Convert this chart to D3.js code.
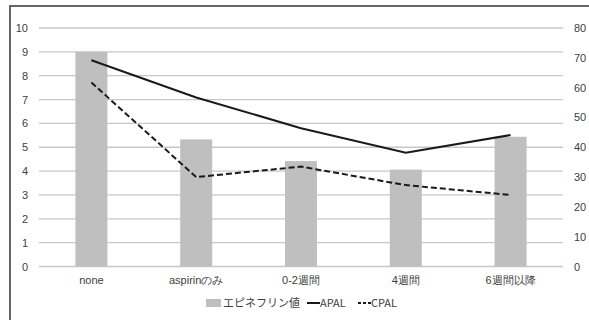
<!DOCTYPE html>
<html>
<head>
<meta charset="utf-8">
<script src="https://cdn.jsdelivr.net/npm/d3@7"></script>
<style>
  html, body { margin: 0; padding: 0; background: #fff; }
  svg { display: block; font-family: "Noto Sans CJK JP", "Noto Sans", sans-serif; }
</style>
</head>
<body>
<svg id="chart" width="589" height="320"></svg>
<script>
// Categories and series
const categories = ["none", "aspirinのみ", "0-2週間", "4週間", "6週間以降"];
const epinephrine = [9.0, 5.33, 4.42, 4.06, 5.44];   // bars, left axis
const apal = [69.2, 56.7, 46.4, 38.2, 44.1];          // solid line, right axis
const cpal = [61.7, 30.0, 33.5, 27.3, 24.0];          // dashed line, right axis
const leftTicks = [0, 1, 2, 3, 4, 5, 6, 7, 8, 9, 10];
const rightTicks = [0, 10, 20, 30, 40, 50, 60, 70, 80];
const legendLabels = ["エピネフリン値", "APAL", "CPAL"];

const svg = d3.select("#chart");
const plot = { left: 39, right: 563, top: 28, bottom: 266.5 };
const textColor = "#404040";

// Frame (top and left edges visible)
svg.append("path")
  .attr("d", "M10,320 V6 H589")
  .attr("fill", "none").attr("stroke", "#666").attr("stroke-width", 2);

const x = d3.scaleBand().domain(categories).range([plot.left, plot.right]).paddingInner(0.695).paddingOuter(0.3475);
const yL = d3.scaleLinear().domain([0, 10]).range([plot.bottom, plot.top]);
const yR = d3.scaleLinear().domain([0, 80]).range([plot.bottom, plot.top]);

// Gridlines
svg.append("g").selectAll("line").data(leftTicks).join("line")
  .attr("x1", plot.left).attr("x2", plot.right)
  .attr("y1", d => yL(d)).attr("y2", d => yL(d))
  .attr("stroke", "#c8c8c8").attr("stroke-width", 1.3);

// Bars
svg.append("g").selectAll("rect").data(categories).join("rect")
  .attr("x", d => x(d))
  .attr("width", x.bandwidth())
  .attr("y", (d, i) => yL(epinephrine[i]))
  .attr("height", (d, i) => yL(0) - yL(epinephrine[i]))
  .attr("fill", "#bfbfbf");

// Lines
const cx = d => x(d) + x.bandwidth() / 2;
const lineGen = vals => d3.line().x((d, i) => cx(categories[i])).y((d) => yR(d))(vals);
svg.append("path").attr("d", lineGen(apal))
  .attr("fill", "none").attr("stroke", "#1a1a1a").attr("stroke-width", 2);
svg.append("path").attr("d", lineGen(cpal))
  .attr("fill", "none").attr("stroke", "#1a1a1a").attr("stroke-width", 2)
  .attr("stroke-dasharray", "6,3");

// Left axis labels
const leftAxis = d3.axisLeft(yL).tickValues(leftTicks).tickSize(0).tickPadding(0);
const gl = svg.append("g").attr("transform", "translate(28,0)").call(leftAxis);
gl.select(".domain").remove();
gl.selectAll("text").attr("fill", textColor).style("font-size", "11px");

// Right axis labels
const rightAxis = d3.axisRight(yR).tickValues(rightTicks).tickSize(0).tickPadding(0);
const gr = svg.append("g").attr("transform", "translate(574,0)").call(rightAxis);
gr.select(".domain").remove();
gr.selectAll("text").attr("fill", textColor).style("font-size", "11px");

// Category labels
const bottomAxis = d3.axisBottom(x).tickSize(0).tickPadding(0);
const gb = svg.append("g").attr("transform", "translate(0,276)").call(bottomAxis);
gb.select(".domain").remove();
gb.selectAll("text").attr("fill", textColor).style("font-size", "11px");

// Legend
const lg = svg.append("g").attr("font-size", "11px").attr("fill", textColor);
lg.append("rect").attr("x", 206).attr("y", 299).attr("width", 15).attr("height", 8).attr("fill", "#bfbfbf");
lg.append("text").attr("x", 223).attr("y", 307).text(legendLabels[0]);
lg.append("line").attr("x1", 307).attr("x2", 320).attr("y1", 303).attr("y2", 303)
  .attr("stroke", "#1a1a1a").attr("stroke-width", 2);
lg.append("text").attr("x", 320).attr("y", 307).text(legendLabels[1]);
lg.append("line").attr("x1", 358).attr("x2", 371).attr("y1", 303).attr("y2", 303)
  .attr("stroke", "#1a1a1a").attr("stroke-width", 2).attr("stroke-dasharray", "3,2");
lg.append("text").attr("x", 371).attr("y", 307).text(legendLabels[2]);
</script>
</body>
</html>
